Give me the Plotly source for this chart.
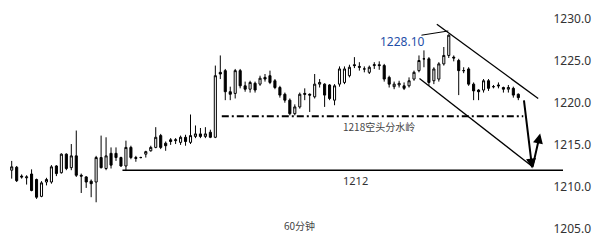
import plotly.graph_objects as go

# OHLC values (60-minute candles)
opens = [1212.0,1212.35,1211.3,1211.1,1211.55,1210.9,1208.9,1210.6,1210.6,1212.5,
         1211.7,1213.9,1212.3,1213.7,1211.4,1211.2,1210.7,1210.6,1213.5,1212.2,
         1214.0,1214.0,1213.5,1212.5,1214.7,1213.5,1213.5,1213.9,1214.3,1214.7,
         1216.1,1215.2,1215.6,1215.5,1215.3,1215.9,1215.3,1216.0,1216.3,1216.0,
         1216.5,1215.9,1223.6,1223.8,1221.3,1221.1,1223.8,1222.0,1221.6,1222.3,
         1222.2,1223.0,1223.2,1222.6,1221.8,1221.0,1220.3,1218.7,1219.5,1221.1,
         1221.0,1220.7,1222.2,1222.2,1222.1,1220.3,1222.2,1222.4,1223.2,1224.5,
         1224.3,1224.0,1223.6,1224.4,1224.5,1224.4,1223.0,1221.9,1222.1,1222.0,
         1222.0,1222.8,1223.8,1225.2,1225.2,1222.6,1222.8,1224.6,1225.6,1225.4,
         1225.0,1223.8,1224.0,1222.2,1221.5,1221.5,1222.6,1221.9,1222.1,1221.8,
         1221.6,1221.7,1221.0]
highs = [1213.1,1212.5,1211.5,1211.4,1212.1,1211.0,1210.7,1211.1,1212.6,1212.6,
         1214.0,1214.0,1215.1,1216.7,1211.6,1211.3,1210.9,1213.7,1216.1,1215.9,
         1214.7,1214.7,1213.6,1215.5,1214.9,1213.7,1213.6,1214.3,1214.9,1217.1,
         1216.3,1215.4,1215.8,1215.8,1216.1,1216.2,1218.6,1217.3,1217.0,1217.1,
         1216.8,1224.4,1225.6,1224.0,1221.9,1224.0,1224.0,1222.5,1222.6,1222.5,
         1223.2,1223.4,1223.8,1222.8,1222.0,1221.2,1220.5,1219.8,1221.2,1221.7,
         1221.1,1223.4,1222.8,1222.3,1222.2,1222.2,1224.3,1224.3,1224.5,1225.4,
         1224.8,1224.3,1224.4,1224.8,1224.9,1224.6,1223.2,1222.5,1222.6,1222.4,
         1223.0,1223.8,1225.6,1226.2,1225.4,1224.2,1224.8,1226.6,1228.1,1225.6,
         1225.2,1224.2,1224.2,1222.4,1221.6,1222.8,1222.8,1222.1,1222.4,1221.9,
         1222.1,1221.9,1221.1]
lows = [1211.0,1210.6,1211.0,1210.3,1209.5,1208.6,1208.8,1210.2,1210.4,1211.3,
        1211.6,1212.0,1212.0,1211.2,1209.3,1209.9,1208.8,1208.2,1212.2,1212.0,
        1212.2,1213.1,1212.4,1211.9,1213.3,1213.0,1213.4,1213.5,1214.2,1214.6,
        1214.5,1214.3,1215.0,1215.1,1215.0,1214.9,1215.1,1215.8,1215.8,1215.8,
        1215.8,1215.8,1222.8,1220.3,1220.3,1220.5,1221.7,1221.3,1221.2,1221.2,
        1222.0,1222.5,1222.2,1221.6,1220.6,1220.0,1218.5,1218.5,1219.3,1220.3,
        1218.9,1220.5,1221.8,1219.5,1220.3,1219.7,1221.9,1222.2,1223.0,1224.1,
        1223.8,1223.6,1223.4,1224.0,1223.9,1222.5,1221.8,1221.6,1221.8,1221.5,
        1221.8,1222.6,1223.6,1224.2,1222.0,1222.2,1222.5,1224.4,1225.3,1224.9,
        1220.9,1223.5,1222.0,1220.3,1220.3,1221.2,1221.4,1221.7,1221.7,1221.2,
        1221.2,1220.6,1220.3]
closes = [1212.4,1210.76,1211.2,1211.2,1209.6,1208.8,1210.5,1210.9,1212.4,1211.6,
          1213.9,1212.2,1213.7,1211.4,1211.3,1210.6,1210.4,1213.5,1212.3,1213.7,
          1212.6,1213.5,1212.5,1214.7,1213.5,1213.4,1213.5,1214.2,1214.7,1215.9,
          1214.7,1214.9,1215.4,1215.6,1215.9,1215.4,1216.1,1216.3,1216.0,1216.3,
          1215.9,1223.2,1223.4,1221.3,1221.0,1223.8,1222.0,1221.6,1222.4,1221.5,
          1222.9,1222.8,1222.4,1221.8,1220.9,1220.3,1218.7,1219.5,1221.0,1221.0,
          1220.9,1222.2,1222.4,1220.9,1220.5,1222.0,1224.0,1224.0,1224.2,1224.4,
          1224.2,1224.0,1224.2,1224.5,1224.4,1222.8,1222.2,1222.2,1222.3,1221.7,
          1222.6,1223.6,1225.0,1225.2,1222.4,1224.0,1224.6,1225.6,1228.0,1225.3,
          1223.8,1223.8,1222.2,1221.4,1221.3,1222.6,1221.7,1221.9,1222.0,1221.6,
          1221.8,1220.9,1220.6]
idx = list(range(len(opens)))

y_ticks = [1205.0, 1210.0, 1215.0, 1220.0, 1225.0, 1230.0]
peak_label = "1228.10"
watershed_level = 1218.4
watershed_label = "1218空头分水岭"
support_level = 1212.0
support_label = "1212"
period_label = "60分钟"

fig = go.Figure()
fig.add_trace(go.Candlestick(
    x=idx, open=opens, high=highs, low=lows, close=closes,
    increasing=dict(line=dict(color="black", width=1), fillcolor="white"),
    decreasing=dict(line=dict(color="black", width=1), fillcolor="black"),
    whiskerwidth=0, showlegend=False, hoverinfo="skip",
))

shapes = []
# support line 1212
shapes.append(dict(type="line", xref="x", yref="y", x0=22.3, x1=111.0,
                   y0=support_level, y1=support_level,
                   line=dict(color="black", width=1.5)))
# watershed dash-dot line
shapes.append(dict(type="line", xref="x", yref="y", x0=42.3, x1=103.0,
                   y0=watershed_level, y1=watershed_level,
                   line=dict(color="black", width=2, dash="7px,3px,2px,3px")))
# channel lines
shapes.append(dict(type="line", xref="x", yref="y", x0=85.6, x1=106.0,
                   y0=1229.3, y1=1220.5, line=dict(color="black", width=1.3)))
shapes.append(dict(type="line", xref="x", yref="y", x0=82.1, x1=104.7,
                   y0=1222.86, y1=1212.5, line=dict(color="black", width=1.3)))
# connector from label to peak
shapes.append(dict(type="line", xref="x", yref="y", x0=82.5, x1=87.9,
                   y0=1228.0, y1=1228.5, line=dict(color="black", width=1)))

annotations = [
    dict(x=104.8, y=1212.2, ax=103.1, ay=1220.44, xref="x", yref="y",
         axref="x", ayref="y", text="", showarrow=True, arrowhead=2,
         arrowsize=1, arrowwidth=2, arrowcolor="black"),
    dict(x=106.4, y=1216.35, ax=104.8, ay=1212.2, xref="x", yref="y",
         axref="x", ayref="y", text="", showarrow=True, arrowhead=2,
         arrowsize=1, arrowwidth=2, arrowcolor="black"),
    dict(x=78.6, y=1227.2, xref="x", yref="y", text=peak_label, showarrow=False,
         font=dict(family="Noto Sans", size=12, color="#1f4fa8")),
    dict(x=74.0, y=1217.16, xref="x", yref="y", text=watershed_label, showarrow=False,
         font=dict(family="Noto Sans CJK SC", size=10, color="#444")),
    dict(x=69.2, y=1210.76, xref="x", yref="y", text=support_label, showarrow=False,
         font=dict(family="Noto Sans", size=11, color="#333")),
    dict(x=58.0, y=1205.5, xref="x", yref="y", text=period_label, showarrow=False,
         font=dict(family="Noto Sans CJK SC", size=10, color="#444")),
]

fig.update_layout(
    width=600, height=241,
    margin=dict(l=0, r=6, t=0, b=0),
    paper_bgcolor="white", plot_bgcolor="white",
    shapes=shapes, annotations=annotations,
    boxgap=0.4,
    xaxis=dict(range=[-2.356, 117.24], visible=False, rangeslider=dict(visible=False),
               fixedrange=True),
    yaxis=dict(range=[1203.61, 1232.17], side="right", tickvals=y_ticks,
               tickformat=".1f", ticklabelposition="inside", showgrid=False,
               zeroline=False, showline=False, ticks="",
               tickfont=dict(family="Noto Sans", size=12, color="#333")),
)

fig.write_html("out.html")
